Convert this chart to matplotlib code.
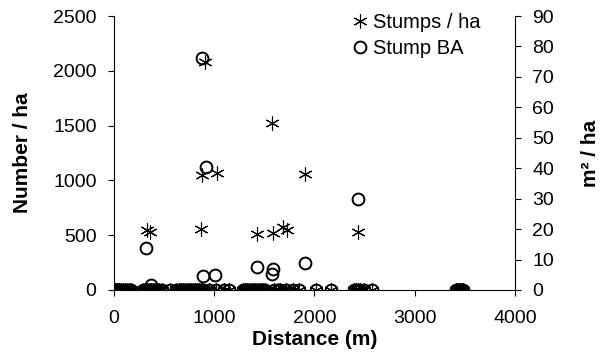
import numpy as np
import matplotlib
matplotlib.use('Agg')
import matplotlib.pyplot as plt

plt.rcParams['font.family'] = ['Liberation Sans', 'DejaVu Sans']

# sites where both stump counts and stump BA are zero
zero_dist = [0, 10, 20, 30, 40, 55, 70, 90, 110, 130, 150, 170,
             290, 310, 330, 350, 370, 390, 410, 430, 450, 480,
             560, 620, 650, 670, 690, 710, 730, 750, 770, 790, 810, 830, 850,
             870, 890, 950, 1020, 1100, 1150,
             1290, 1310, 1330, 1350, 1370, 1390, 1410, 1430, 1450, 1470, 1490, 1510,
             1600, 1640, 1660, 1720, 1790, 1850, 2020, 2160,
             2390, 2410, 2430, 2450, 2490, 2570,
             3410, 3425, 3440, 3455, 3470, 3485]

# stumps per ha (left axis)
stump_dist = [326, 359, 865, 908, 875, 1024, 1576, 1423, 1589, 1689, 1729, 1905, 2431]
stump_n = [547, 532, 557, 2083, 1049, 1065, 1524, 511, 517, 572, 547, 1058, 532]

# stump basal area m2/ha (right axis)
ba_dist = [316, 366, 875, 918, 891, 1007, 1430, 1589, 1573, 1905, 2431]
ba_val = [13.7, 1.8, 76.1, 40.5, 4.6, 4.9, 7.6, 6.8, 5.2, 9.0, 29.9]

fig = plt.figure(figsize=(6.04, 3.62), dpi=100)
ax = fig.add_axes([0.1887, 0.1989, 0.6639, 0.7569])
ax2 = ax.twinx()

ast = (6, 2, 0)
ax.plot(zero_dist + stump_dist, [0] * len(zero_dist) + stump_n, linestyle='none',
        marker=ast, markersize=10, markeredgewidth=0.8, color='black', label='Stumps / ha')
ax2.plot(zero_dist + ba_dist, [0] * len(zero_dist) + ba_val, linestyle='none',
         marker='o', markersize=8.5, markeredgewidth=1.4, markerfacecolor='none',
         markeredgecolor='black', label='Stump BA')

ax.set_xlim(0, 4000)
ax.set_ylim(0, 2500)
ax2.set_ylim(0, 90)
ax.set_xticks(np.arange(0, 4001, 1000))
ax.set_yticks(np.arange(0, 2501, 500))
ax2.set_yticks(np.arange(0, 91, 10))

for a in (ax, ax2):
    a.spines['top'].set_visible(False)
    a.tick_params(direction='out', length=4.5, width=0.8, labelsize=14, pad=8)
    for s in a.spines.values():
        s.set_linewidth(0.8)
ax.tick_params(axis='x', pad=10)
ax.spines['right'].set_visible(False)
ax2.spines['left'].set_visible(False)
ax2.spines['bottom'].set_visible(False)

ax.set_xlabel('Distance (m)', fontsize=15, fontweight='bold', labelpad=2)
ax.set_ylabel('Number / ha', fontsize=15, fontweight='bold', labelpad=15)
ax2.set_ylabel('m² / ha', fontsize=15, fontweight='bold', labelpad=19)

h1, l1 = ax.get_legend_handles_labels()
h2, l2 = ax2.get_legend_handles_labels()
ax2.legend(h1 + h2, l1 + l2, loc='upper left', bbox_to_anchor=(0.575, 1.04),
           frameon=False, fontsize=14.5, handlelength=0.7, handletextpad=0.3,
           labelspacing=0.35, borderaxespad=0)

fig.savefig('out.png', dpi=100)
